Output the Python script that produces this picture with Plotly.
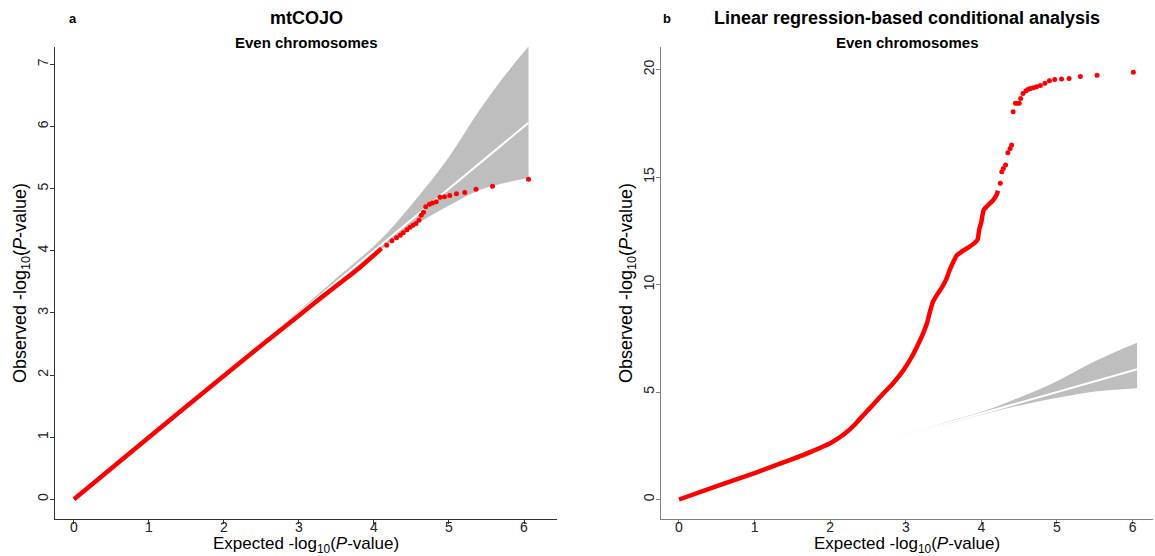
import plotly.graph_objects as go

# ---- panel a: mtCOJO, even chromosomes ----
a_body_expected = [0, 1, 2, 2.5, 3, 3.3, 3.6, 3.8, 4.0, 4.1]
a_body_observed = [0, 1.0, 1.99, 2.48, 2.96, 3.25, 3.53, 3.72, 3.93, 4.04]
a_tail_expected = [4.17, 4.24, 4.30, 4.35, 4.39, 4.44, 4.48, 4.52, 4.56, 4.60, 4.63, 4.66,
                   4.69, 4.74, 4.78, 4.83, 4.88, 4.94, 5.01, 5.10, 5.21, 5.36, 5.58, 6.06]
a_tail_observed = [4.09, 4.16, 4.21, 4.25, 4.29, 4.34, 4.38, 4.41, 4.44, 4.49, 4.57, 4.62,
                   4.71, 4.75, 4.77, 4.79, 4.86, 4.87, 4.89, 4.92, 4.94, 4.99, 5.04, 5.15]

# ---- panel b: linear regression-based conditional analysis ----
b_body_expected = [0, 0.5, 1.0, 1.5, 1.75, 2.0, 2.1, 2.22, 2.31, 2.39, 2.48, 2.57, 2.70,
                   2.83, 2.97, 3.08, 3.17, 3.23, 3.28, 3.32, 3.36, 3.41, 3.47, 3.54, 3.58,
                   3.63, 3.67, 3.74, 3.83, 3.89, 3.95, 3.97, 4.00, 4.03, 4.09, 4.15, 4.20, 4.22]
b_body_observed = [0, 0.62, 1.23, 1.88, 2.23, 2.62, 2.83, 3.14, 3.43, 3.74, 4.08, 4.42, 4.92,
                   5.40, 6.02, 6.64, 7.27, 7.73, 8.20, 8.74, 9.20, 9.51, 9.82, 10.29, 10.67,
                   11.06, 11.33, 11.53, 11.73, 11.88, 12.10, 12.53, 12.92, 13.47, 13.70, 13.90,
                   14.16, 14.36]
b_tail_expected = [4.25, 4.27, 4.29, 4.32, 4.35, 4.38, 4.40, 4.42, 4.45, 4.48, 4.50, 4.52,
                   4.55, 4.59, 4.62, 4.65, 4.69, 4.73, 4.78, 4.84, 4.90, 4.97, 5.06, 5.16,
                   5.31, 5.53, 6.01]
b_tail_observed = [14.71, 15.25, 15.40, 15.56, 16.13, 16.33, 16.49, 18.04, 18.43, 18.43,
                   18.43, 18.66, 18.89, 19.01, 19.08, 19.12, 19.15, 19.20, 19.26, 19.36,
                   19.48, 19.54, 19.56, 19.59, 19.68, 19.74, 19.88]

# ---- null expectation and its confidence band (shared by both panels) ----
band_expected = [0, 1, 2, 3, 3.5, 4.08, 4.52, 4.97, 5.41, 5.77, 6.06]
band_upper = [0, 1.0, 2.0, 3.03, 3.56, 4.17, 4.77, 5.46, 6.27, 6.86, 7.29]
band_lower = [0, 1.0, 2.0, 2.97, 3.45, 4.01, 4.39, 4.71, 4.98, 5.10, 5.17]
diag_expected = [0, 6.06]

x_ticks = [0, 1, 2, 3, 4, 5, 6]
a_y_ticks = [0, 1, 2, 3, 4, 5, 6, 7]
b_y_ticks = [0, 5, 10, 15, 20]

RED = "#FF0000"
BAND = "#BEBEBE"
FONT = "Liberation Sans, Arial, sans-serif"

fig = go.Figure()


def add_panel(xa, ya, body_x, body_y, tail_x, tail_y):
    # confidence band
    fig.add_trace(go.Scatter(x=band_expected, y=band_upper, xaxis=xa, yaxis=ya,
                             mode="lines", line=dict(width=0, color=BAND, shape="spline"),
                             hoverinfo="skip", showlegend=False))
    fig.add_trace(go.Scatter(x=band_expected, y=band_lower, xaxis=xa, yaxis=ya,
                             mode="lines", line=dict(width=0, color=BAND, shape="spline"),
                             fill="tonexty", fillcolor=BAND,
                             hoverinfo="skip", showlegend=False))
    # y = x reference line
    fig.add_trace(go.Scatter(x=diag_expected, y=diag_expected, xaxis=xa, yaxis=ya,
                             mode="lines", line=dict(width=2, color="white"),
                             hoverinfo="skip", showlegend=False))
    # dense bulk of the association statistics
    fig.add_trace(go.Scatter(x=body_x, y=body_y, xaxis=xa, yaxis=ya,
                             mode="lines",
                             line=dict(width=4.5, color=RED, shape="spline", smoothing=0.5),
                             showlegend=False))
    # sparse top hits
    fig.add_trace(go.Scatter(x=tail_x, y=tail_y, xaxis=xa, yaxis=ya,
                             mode="markers", marker=dict(size=5, color=RED, line=dict(width=0)),
                             showlegend=False))


add_panel("x", "y", a_body_expected, a_body_observed, a_tail_expected, a_tail_observed)
add_panel("x2", "y2", b_body_expected, b_body_observed, b_tail_expected, b_tail_observed)

W, H = 1155, 556
top_px, bot_px = 47, 519
y_dom = [1 - bot_px / H, 1 - top_px / H]


def axis_common(color, standoff):
    return dict(showgrid=False, zeroline=False, showline=True, linecolor=color, linewidth=1,
                ticks="outside", ticklen=4, tickcolor=color, tickwidth=1,
                ticklabelstandoff=standoff,
                tickfont=dict(family=FONT, size=14, color="#222222"), fixedrange=True)


fig.update_layout(
    width=W, height=H,
    margin=dict(l=0, r=0, t=0, b=0),
    paper_bgcolor="white", plot_bgcolor="white",
    font=dict(family=FONT, color="#000000"),
    xaxis=dict(domain=[55 / W, 557 / W], range=[-0.253, 6.44], tickvals=x_ticks,
               anchor="y", **axis_common("#333333", -9)),
    yaxis=dict(domain=y_dom, range=[-0.317, 7.28], tickvals=a_y_ticks, tickangle=-90,
               anchor="x", **axis_common("#333333", -4)),
    xaxis2=dict(domain=[661 / W, 1153 / W], range=[-0.238, 6.27], tickvals=x_ticks,
                anchor="y2", **axis_common("#808080", -9)),
    yaxis2=dict(domain=y_dom, range=[-0.907, 21.05], tickvals=b_y_ticks, tickangle=-90,
                anchor="x2", **axis_common("#808080", -4)),
)

x_title = "Expected -log<sub>10</sub>(<i>P</i>-value)"
y_title = "Observed -log<sub>10</sub>(<i>P</i>-value)"


def ann(x, y, text, size, bold=False, angle=0, xanchor="center"):
    fig.add_annotation(x=x / W, y=1 - y / H, xref="paper", yref="paper",
                       text=f"<b>{text}</b>" if bold else text, showarrow=False,
                       textangle=angle, xanchor=xanchor, yanchor="middle",
                       font=dict(family=FONT, size=size, color="#000000"))


ann(73, 18, "a", 13, bold=True)
ann(306, 18, "mtCOJO", 18, bold=True)
ann(306, 43, "Even chromosomes", 15, bold=True)
ann(667, 18, "b", 13, bold=True)
ann(907, 18, "Linear regression-based conditional analysis", 18, bold=True)
ann(907, 43, "Even chromosomes", 15, bold=True)

ann(306, 545, x_title, 17)
ann(907, 545, x_title, 17)
ann(21, 283, y_title, 18, angle=-90)
ann(627, 283, y_title, 18, angle=-90)

fig.write_html("out.html")
